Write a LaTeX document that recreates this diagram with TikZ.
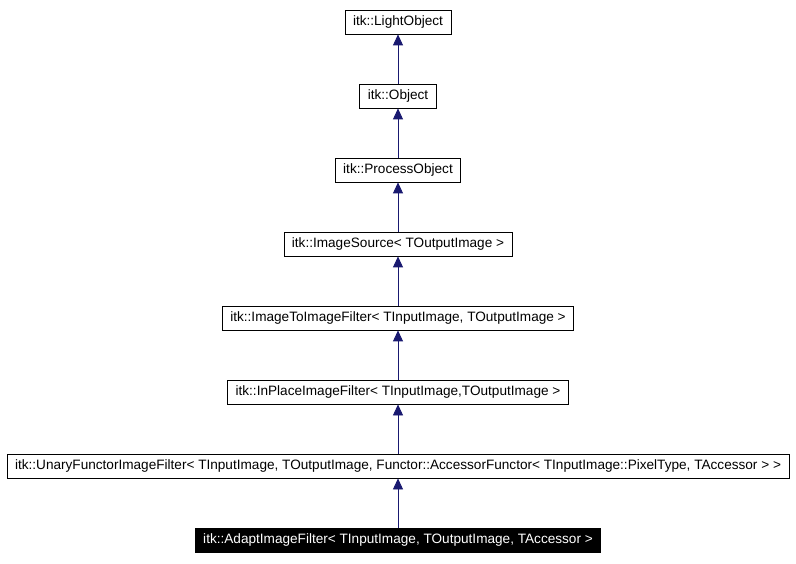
\documentclass[tikz,border=0pt]{standalone}
\usepackage{fontspec}
\setmainfont{Liberation Sans}
\usetikzlibrary{arrows.meta, positioning}
\definecolor{itknavy}{RGB}{25, 25, 112}

\begin{document}
\begin{tikzpicture}[x=1pt, y=-1pt, node distance=49.2pt]
    % Styles
    \tikzstyle{block} = [rectangle, draw, fill=white, line width=0.8pt, text centered, inner xsep=8pt, minimum height=24pt, font=\fontsize{13.6}{15}\selectfont]
    \tikzstyle{current} = [block, fill=black, text=white]
    \tikzstyle{arrow} = [line width=0.8pt, itknavy, -{Triangle[length=11pt, width=10pt]}]

    \useasboundingbox (0,0) rectangle (796,564);

    % Nodes
    \node [block] (light) at (398,22) {itk::LightObject};
    \node [block, below=of light] (object) {itk::Object};
    \node [block, below=of object] (process) {itk::ProcessObject};
    \node [block, below=of process] (source) {itk::ImageSource< TOutputImage >};
    \node [block, below=of source] (imgtoimg) {itk::ImageToImageFilter< TInputImage, TOutputImage >};
    \node [block, below=of imgtoimg] (inplace) {itk::InPlaceImageFilter< TInputImage,TOutputImage >};
    \node [block, below=of inplace] (unary) {itk::UnaryFunctorImageFilter< TInputImage, TOutputImage, Functor::AccessorFunctor< TInputImage::PixelType, TAccessor > >};
    \node [current, below=of unary] (adapt) {itk::AdaptImageFilter< TInputImage, TOutputImage, TAccessor >};

    % Arrows
    \draw [arrow] (object) -- (light);
    \draw [arrow] (process) -- (object);
    \draw [arrow] (source) -- (process);
    \draw [arrow] (imgtoimg) -- (source);
    \draw [arrow] (inplace) -- (imgtoimg);
    \draw [arrow] (unary) -- (inplace);
    \draw [arrow] (adapt) -- (unary);
\end{tikzpicture}
\end{document}
